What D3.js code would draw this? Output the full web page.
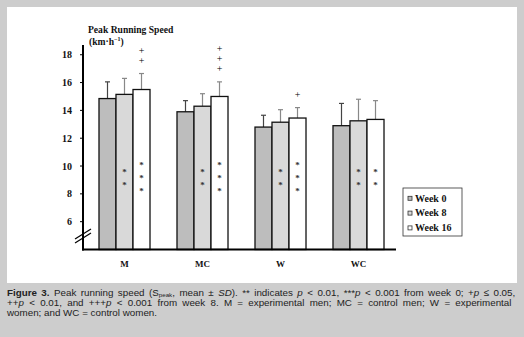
<!DOCTYPE html>
<html><head><meta charset="utf-8">
<script src="https://cdn.jsdelivr.net/npm/d3@7"></script>
<style>body{margin:0;background:#cdcdcd}svg{display:block}</style>
</head><body>
<svg id="c" width="524" height="337"></svg>
<script>
const groups = ["M", "MC", "W", "WC"];
const series = ["Week 0", "Week 8", "Week 16"];
const means = [
  [14.85, 15.15, 15.5],
  [13.9, 14.3, 15.0],
  [12.8, 13.15, 13.45],
  [12.9, 13.25, 13.35]
];
const sds = [
  [1.2, 1.15, 1.15],
  [0.8, 0.9, 1.05],
  [0.85, 0.9, 0.75],
  [1.6, 1.55, 1.35]
];
const stars = [[0, 2, 3], [0, 2, 3], [0, 2, 3], [0, 2, 2]];
const pluses = [[0, 0, 2], [0, 0, 3], [0, 0, 1], [0, 0, 0]];
const yTicks = [6, 8, 10, 12, 14, 16, 18];
const colors = ["#bdbdbd", "#d9d9d9", "#ffffff"];
const errColors = ["#444", "#888", "#888"];

const svg = d3.select("#c");
svg.append("rect").attr("x", 0).attr("y", 0).attr("width", 524).attr("height", 337).attr("fill", "#cdcdcd");
svg.append("rect").attr("x", 7).attr("y", 7).attr("width", 510).attr("height", 276).attr("fill", "#fff");

const y = d3.scaleLinear().domain([4, 18.7]).range([249.5, 45]);
const x0 = d3.scaleBand().domain(groups).range([85.5, 397.5]).paddingInner(0.346).paddingOuter(0.173);
const x1 = d3.scaleBand().domain(series).range([0, x0.bandwidth()]);

const serif = "'Liberation Serif','DejaVu Serif',serif";

// bars
groups.forEach((g, gi) => {
  const gg = svg.append("g").attr("transform", `translate(${x0(g)},0)`);
  series.forEach((s, si) => {
    const m = means[gi][si], sd = sds[gi][si];
    const bx = x1(s), bw = x1.bandwidth();
    const cx = bx + bw / 2;
    gg.append("line").attr("x1", cx).attr("x2", cx).attr("y1", y(m)).attr("y2", y(m + sd))
      .attr("stroke", errColors[si]).attr("stroke-width", 1.2);
    gg.append("line").attr("x1", cx - 2.5).attr("x2", cx + 2.5).attr("y1", y(m + sd)).attr("y2", y(m + sd))
      .attr("stroke", errColors[si]).attr("stroke-width", 1.2);
    gg.append("rect").attr("x", bx).attr("y", y(m)).attr("width", bw).attr("height", y(4) - y(m))
      .attr("fill", colors[si]).attr("stroke", "#111").attr("stroke-width", 1.3);
    const n = stars[gi][si];
    for (let k = 0; k < n; k++) {
      const yy = y(9.2) + (k - (n - 1) / 2) * 13;
      gg.append("text").attr("x", cx).attr("y", yy + 4).attr("text-anchor", "middle")
        .attr("font-family", serif).attr("font-weight", "bold").attr("font-size", 9).attr("fill", "#333").text("*");
    }
    const p = pluses[gi][si];
    for (let k = 0; k < p; k++) {
      const yy = y(m + sd) - 13 - k * 10;
      gg.append("text").attr("x", cx).attr("y", yy + 3.4).attr("text-anchor", "middle")
        .attr("font-family", serif).attr("font-size", 10).attr("fill", "#000").text("+");
    }
  });
});

// axes
svg.append("line").attr("x1", 83).attr("x2", 83).attr("y1", y(18.7)).attr("y2", y(4) + 1).attr("stroke", "#000").attr("stroke-width", 2);
svg.append("line").attr("x1", 82).attr("x2", 396).attr("y1", y(4)).attr("y2", y(4)).attr("stroke", "#000").attr("stroke-width", 2);
yTicks.forEach(t => {
  svg.append("line").attr("x1", 80).attr("x2", 83).attr("y1", y(t)).attr("y2", y(t)).attr("stroke", "#000").attr("stroke-width", 1);
  svg.append("text").attr("x", 72).attr("y", y(t) + 3.5).attr("text-anchor", "end")
    .attr("font-family", serif).attr("font-weight", "bold").attr("font-size", 10).attr("fill", "#111").text(t);
});
// axis break
[0, 4].forEach(d => {
  svg.append("line").attr("x1", 75).attr("y1", 243 - d).attr("x2", 91).attr("y2", 233 - d)
    .attr("stroke", "#000").attr("stroke-width", 1.2);
});
// category labels
groups.forEach(g => {
  svg.append("text").attr("x", x0(g) + x0.bandwidth() / 2).attr("y", 266.5).attr("text-anchor", "middle")
    .attr("font-family", serif).attr("font-weight", "bold").attr("font-size", 9).attr("fill", "#111").text(g);
});
// title
svg.append("text").attr("x", 88).attr("y", 33).attr("font-family", serif).attr("font-weight", "bold")
  .attr("font-size", 9.6).attr("fill", "#111").text("Peak Running Speed");
const t2 = svg.append("text").attr("x", 89).attr("y", 44.5).attr("font-family", serif).attr("font-weight", "bold")
  .attr("font-size", 9.6).attr("fill", "#111");
t2.append("tspan").text("(km·h");
t2.append("tspan").attr("dy", -3.5).attr("font-size", 6).text("−1");
t2.append("tspan").attr("dy", 3.5).text(")");

// legend
const lg = svg.append("g");
lg.append("rect").attr("x", 403).attr("y", 188).attr("width", 59).attr("height", 48)
  .attr("fill", "#fff").attr("stroke", "#333").attr("stroke-width", 0.8);
series.forEach((s, si) => {
  const cy = 198.3 + si * 14.8;
  lg.append("rect").attr("x", 408).attr("y", cy - 2).attr("width", 4).attr("height", 4)
    .attr("fill", colors[si]).attr("stroke", "#333").attr("stroke-width", 0.8);
  lg.append("text").attr("x", 415).attr("y", cy + 3.3).attr("font-family", serif).attr("font-weight", "bold")
    .attr("font-size", 10).attr("fill", "#111").text(s);
});

// caption
const sans = "'Liberation Sans',Arial,sans-serif";
const cap = svg.append("g").attr("font-family", sans).attr("font-size", 9.8).attr("fill", "#222");
const l1 = cap.append("text").attr("x", 7).attr("y", 295.5);
l1.append("tspan").attr("font-weight", "bold").text("Figure 3.");
l1.append("tspan").text("  Peak running speed (S");
l1.append("tspan").attr("dy", 1.4).attr("font-size", 6.2).text("peak");
l1.append("tspan").attr("dy", -1.4).text(", mean ± ");
l1.append("tspan").attr("font-style", "italic").text("SD");
l1.append("tspan").text("). ** indicates ");
l1.append("tspan").attr("font-style", "italic").text("p");
l1.append("tspan").text(" < 0.01, ***");
l1.append("tspan").attr("font-style", "italic").text("p");
l1.append("tspan").text(" < 0.001 from week 0; +");
l1.append("tspan").attr("font-style", "italic").text("p");
l1.append("tspan").text(" ≤ 0.05,");
const l2 = cap.append("text").attr("x", 7).attr("y", 305.7);
l2.append("tspan").text("++");
l2.append("tspan").attr("font-style", "italic").text("p");
l2.append("tspan").text(" < 0.01, and +++");
l2.append("tspan").attr("font-style", "italic").text("p");
l2.append("tspan").text(" < 0.001  from week 8. M = experimental men; MC = control men; W = experimental");
cap.append("text").attr("x", 7).attr("y", 315.9).text("women; and WC = control women.");

// justify first two caption lines to the panel width
[[l1, 510], [l2, 507]].forEach(([t, target]) => {
  const node = t.node();
  const len = node.getComputedTextLength();
  const spaces = (node.textContent.match(/ /g) || []).length;
  if (spaces > 0 && len < target) t.attr("word-spacing", (target - len) / spaces);
});
</script>
</body></html>
